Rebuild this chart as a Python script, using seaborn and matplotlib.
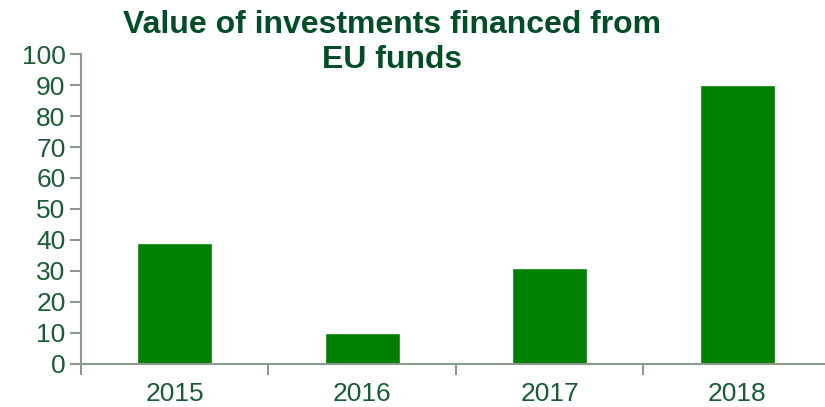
import numpy as np
import pandas as pd
import matplotlib.pyplot as plt
import seaborn as sns

years = ['2015', '2016', '2017', '2018']
values = [39, 10, 31, 90]

sns.set_style('white')
plt.rcParams['font.family'] = ['Liberation Sans', 'DejaVu Sans']

df = pd.DataFrame({'year': years, 'value': values})

fig = plt.figure(figsize=(8.25, 4.07), dpi=100)
ax = fig.add_axes([0.098, 0.1057, 0.909, 0.7616])

sns.barplot(data=df, x='year', y='value', color='#008000', saturation=1,
            width=0.4, ax=ax)

txt = '#1a5c33'
grey = '#8c9a8c'
ax.set_ylim(0, 100)
ax.set_xlim(-0.5, 3.5)
ax.set_yticks(range(0, 101, 10))
ax.set_xlabel('')
ax.set_ylabel('')
ax.set_xticks(np.arange(-0.5, 4, 1), minor=True)
ax.tick_params(bottom=True, left=True, which='both')
ax.tick_params(axis='x', which='major', length=0, labelsize=19, labelcolor=txt, pad=13)
ax.tick_params(axis='x', which='minor', length=8, color=grey, width=1.5, direction='out')
ax.tick_params(axis='y', length=8, color=grey, width=1.5, direction='out',
               labelsize=19, labelcolor=txt, pad=3)
for s in ['top', 'right']:
    ax.spines[s].set_visible(False)
for s in ['left', 'bottom']:
    ax.spines[s].set_color(grey)
    ax.spines[s].set_linewidth(1.5)

fig.text(0.475, 0.975, 'Value of investments financed from\nEU funds',
         ha='center', va='top', fontsize=23, fontweight='bold', color='#004d26',
         linespacing=1.2)

fig.savefig('out.png', dpi=100)
